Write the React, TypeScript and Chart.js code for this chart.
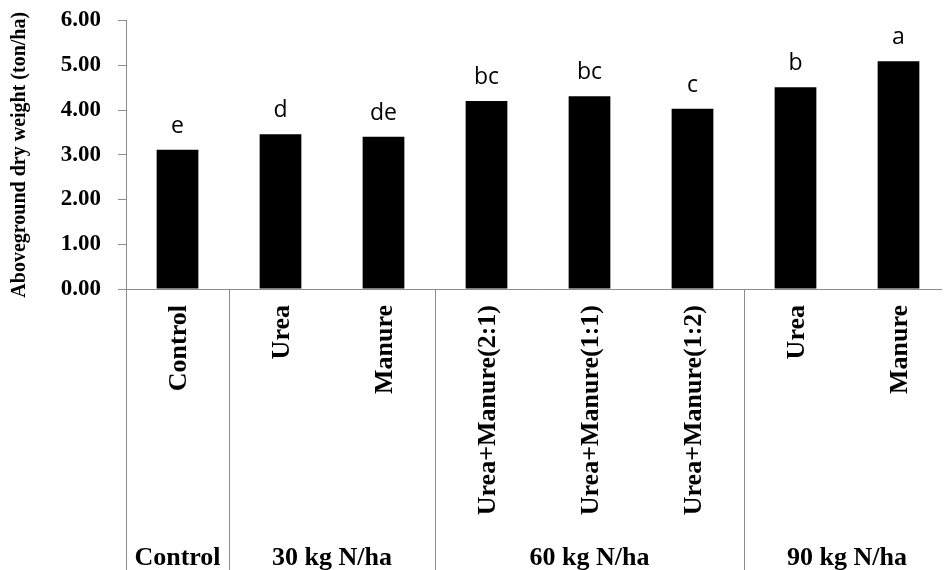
import React, { useEffect, useRef } from "react";
import { Chart, registerables } from "chart.js";

Chart.register(...registerables);

const categories = [
  "Control",
  "Urea",
  "Manure",
  "Urea+Manure(2:1)",
  "Urea+Manure(1:1)",
  "Urea+Manure(1:2)",
  "Urea",
  "Manure",
];
const values = [3.11, 3.46, 3.4, 4.2, 4.31, 4.03, 4.51, 5.09];
const letters = ["e", "d", "de", "bc", "bc", "c", "b", "a"];
const groupLabels = ["Control", "30 kg N/ha", "60 kg N/ha", "90 kg N/ha"];
const groupSizes = [1, 2, 3, 2];
const yTicks = [0, 1, 2, 3, 4, 5, 6];

const AXIS = "#8c8c8c";
const SERIF = "'Liberation Serif', 'Times New Roman', serif";
const SANS = "'Open Sans', 'Noto Sans', sans-serif";

const annotate = {
  id: "annotate",
  afterDraw(chart: any) {
    const { ctx, chartArea, scales } = chart;
    const x = scales.x;
    const y = scales.y;
    const H = chart.height;
    const step = x.getPixelForValue(1) - x.getPixelForValue(0);
    ctx.save();
    // significance letters
    ctx.fillStyle = "#000";
    ctx.font = `23px ${SANS}`;
    ctx.textAlign = "center";
    ctx.textBaseline = "alphabetic";
    values.forEach((v, i) => {
      ctx.fillText(letters[i], x.getPixelForValue(i), y.getPixelForValue(v) - 17);
    });
    // rotated category labels
    ctx.font = `bold 26px ${SERIF}`;
    categories.forEach((c, i) => {
      ctx.save();
      ctx.translate(x.getPixelForValue(i) + 8.5, chartArea.bottom + 16);
      ctx.rotate(-Math.PI / 2);
      ctx.textAlign = "right";
      ctx.textBaseline = "alphabetic";
      ctx.fillText(c, 0, 0);
      ctx.restore();
    });
    // group dividers and labels
    ctx.strokeStyle = AXIS;
    ctx.lineWidth = 1;
    let idx = 0;
    groupSizes.forEach((n, g) => {
      const left = x.getPixelForValue(idx) - step / 2;
      const right = x.getPixelForValue(idx + n - 1) + step / 2;
      const lx = Math.round(left) + 0.5;
      ctx.beginPath();
      ctx.moveTo(lx, chartArea.bottom);
      ctx.lineTo(lx, H);
      ctx.stroke();
      ctx.fillStyle = "#000";
      ctx.font = `bold 26px ${SERIF}`;
      ctx.textAlign = "center";
      ctx.textBaseline = "alphabetic";
      ctx.fillText(groupLabels[g], (left + right) / 2, H - 5);
      idx += n;
    });
    ctx.restore();
  },
};

export default function App() {
  const ref = useRef<HTMLCanvasElement>(null);
  useEffect(() => {
    if (!ref.current) return;
    const chart = new Chart(ref.current, {
      type: "bar",
      data: {
        labels: categories,
        datasets: [
          {
            data: values,
            backgroundColor: "#000000",
            borderWidth: 0,
            barPercentage: 0.405,
            categoryPercentage: 1.0,
          },
        ],
      },
      options: {
        animation: false,
        responsive: false,
        devicePixelRatio: 1,
        layout: { padding: { top: 0, right: 0, bottom: 0, left: 0 } },
        plugins: {
          legend: { display: false },
          tooltip: { enabled: false },
        },
        scales: {
          x: {
            type: "category",
            ticks: { display: false },
            grid: { display: false },
            border: { display: true, color: AXIS, width: 1 },
            afterFit: (s: any) => {
              s.height = 281;
            },
          },
          y: {
            min: 0,
            max: 6,
            afterBuildTicks: (s: any) => {
              s.ticks = yTicks.map((v) => ({ value: v }));
            },
            ticks: {
              color: "#000",
              padding: 17,
              font: { family: SERIF, size: 23, weight: "bold", lineHeight: 1 },
              callback: (v: any) => Number(v).toFixed(2),
            },
            grid: {
              drawOnChartArea: false,
              drawTicks: true,
              tickLength: 8,
              color: AXIS,
            },
            border: { display: true, color: AXIS, width: 1 },
            title: {
              display: true,
              text: "Aboveground dry weight (ton/ha)",
              color: "#000",
              font: { family: SERIF, size: 20, weight: "bold", lineHeight: 1.2 },
              padding: { top: 0, bottom: 0 },
            },
            afterFit: (s: any) => {
              s.width = 118;
            },
          },
        },
      },
      plugins: [annotate],
    });
    return () => chart.destroy();
  }, []);
  return (
    <div style={{ width: 942, height: 578, marginTop: -16 }}>
      <canvas ref={ref} width={942} height={578} style={{ display: "block" }} />
    </div>
  );
}
